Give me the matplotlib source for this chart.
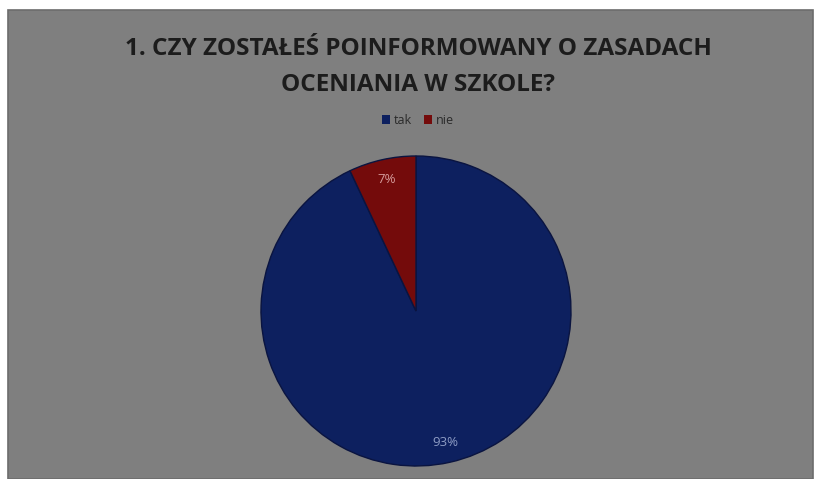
import matplotlib
matplotlib.use("Agg")
import matplotlib.pyplot as plt
from matplotlib.patches import Rectangle, Patch
import numpy as np

categories = ["tak", "nie"]
values = [93, 7]
labels_pct = ["93%", "7%"]
title = "1. CZY ZOSTAŁEŚ POINFORMOWANY O ZASADACH\nOCENIANIA W SZKOLE?"

colors = ["#0d205f", "#740b0b"]
label_colors = ["#8d9cc4", "#d49a9a"]

W, H = 815, 479
fig = plt.figure(figsize=(W / 100, H / 100), dpi=100, facecolor="white")

# gray panel
fig.patches.append(Rectangle((8 / W, 0), (805 / W), (469 / H), transform=fig.transFigure,
                             facecolor="#7f7f7f", edgecolor="#6c6c6c", linewidth=1.2, zorder=-10))

fig.text(418 / W, 1 - 67 / H, title, ha="center", va="center", fontsize=17.5,
         fontweight="bold", family=["Open Sans", "DejaVu Sans"], color="#1c1c1c",
         linespacing=1.7)

# pie axes: center (416, 311), radius ~154
r = 155
cx, cy = 416, 311
ax = fig.add_axes([(cx - r) / W, (H - cy - r) / H, 2 * r / W, 2 * r / H], zorder=5)
wedges, _ = ax.pie(values, colors=colors, startangle=90, counterclock=False,
                   radius=1.0, wedgeprops=dict(edgecolor="#0a1440", linewidth=1.0))
ax.set_xlim(-1, 1)
ax.set_ylim(-1, 1)
ax.set_aspect("auto")
ax.axis("off")

start = 90.0
total = sum(values)
for v, lab, c in zip(values, labels_pct, label_colors):
    span = 360.0 * v / total
    mid = np.deg2rad(start - span / 2)
    ax.text(0.87 * np.cos(mid), 0.87 * np.sin(mid), lab, ha="center", va="center",
            fontsize=9.5, color=c, family=["Open Sans", "DejaVu Sans"])
    start -= span

handles = [Patch(facecolor=c, edgecolor="none") for c in colors]
fig.legend(handles, categories, loc="center", bbox_to_anchor=(418 / W, 1 - 120 / H),
           ncol=2, frameon=False, handlelength=0.7, handleheight=0.7,
           handletextpad=0.3, columnspacing=0.9, labelcolor="#2a2a2a",
           prop={"family": ["Open Sans", "DejaVu Sans"], "size": 9})

fig.savefig("out.png", dpi=100, facecolor="white")
